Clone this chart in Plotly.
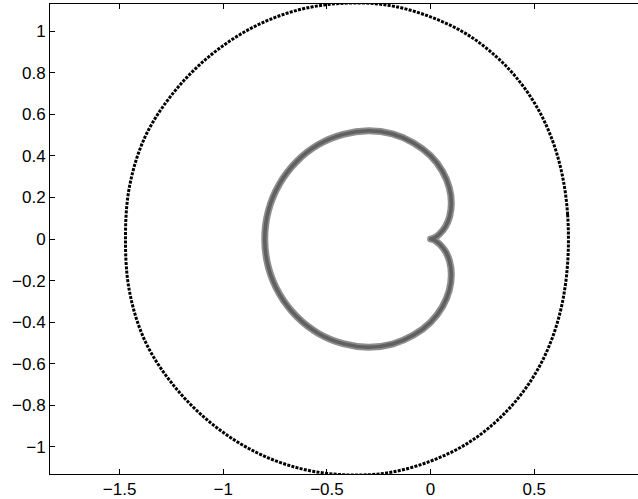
import plotly.graph_objects as go

# Outer closed curve (black dots), counter-clockwise from the right
outer_x = [0.665, 0.661, 0.648, 0.623, 0.582, 0.521, 0.434, 0.319, 0.174, 0.000,
           -0.198, -0.413, -0.636, -0.855, -1.057, -1.235, -1.375, -1.452, -1.472,
           -1.452, -1.375, -1.235, -1.057, -0.855, -0.636, -0.413, -0.198, 0.000,
           0.174, 0.319, 0.434, 0.521, 0.582, 0.623, 0.648, 0.661, 0.665]
outer_y = [0.000, 0.117, 0.236, 0.360, 0.489, 0.620, 0.751, 0.875, 0.985, 1.068,
           1.123, 1.134, 1.102, 1.019, 0.887, 0.710, 0.496, 0.255, 0.000,
           -0.255, -0.496, -0.710, -0.887, -1.019, -1.102, -1.134, -1.123, -1.068,
           -0.985, -0.875, -0.751, -0.620, -0.489, -0.360, -0.236, -0.117, 0.000]

# Inner cardioid (grey x markers), cusp at the origin
inner_x = [0.000, 0.006, 0.023, 0.046, 0.072, 0.092, 0.100, 0.090, 0.057, 0.000,
           -0.082, -0.184, -0.300, -0.422, -0.541, -0.646, -0.729, -0.782, -0.800,
           -0.782, -0.729, -0.646, -0.541, -0.422, -0.300, -0.184, -0.082, 0.000,
           0.057, 0.090, 0.100, 0.092, 0.072, 0.046, 0.023, 0.006, 0.000]
inner_y = [0.000, 0.001, 0.008, 0.027, 0.060, 0.109, 0.173, 0.247, 0.326, 0.400,
           0.462, 0.505, 0.520, 0.503, 0.454, 0.373, 0.265, 0.138, 0.000,
           -0.138, -0.265, -0.373, -0.454, -0.503, -0.520, -0.505, -0.462, -0.400,
           -0.326, -0.247, -0.173, -0.109, -0.060, -0.027, -0.008, -0.001, 0.000]

x_ticks = [-1.5, -1, -0.5, 0, 0.5, 1]
x_labels = ['\u22121.5', '\u22121', '\u22120.5', '0', '0.5', '1']
y_ticks = [-1, -0.8, -0.6, -0.4, -0.2, 0, 0.2, 0.4, 0.6, 0.8, 1]
y_labels = ['\u22121', '\u22120.8', '\u22120.6', '\u22120.4', '\u22120.2', '0',
            '0.2', '0.4', '0.6', '0.8', '1']

fig = go.Figure()
# Inner cardioid: wide light band plus darker core to mimic the overlapping x markers
fig.add_scatter(x=inner_x, y=inner_y, mode='lines', line=dict(color='#8e8e8e', width=7, shape='spline'), hoverinfo='skip')
fig.add_scatter(x=inner_x, y=inner_y, mode='lines', line=dict(color='#606060', width=3.5, shape='spline'), hoverinfo='skip')
# Outer curve: dense black dots
fig.add_scatter(x=outer_x, y=outer_y, mode='lines',
                line=dict(color='black', width=3, shape='spline', dash='3px,1.3px'), hoverinfo='skip')

axis_common = dict(
    showgrid=False, zeroline=False, showline=True, linecolor='black', linewidth=1,
    ticks='inside', ticklen=5, tickwidth=1, tickcolor='black',
)
fig.update_xaxes(range=[-1.836, 1.0005], tickvals=x_ticks, ticktext=x_labels, mirror='ticks', **axis_common)
fig.update_yaxes(range=[-1.13, 1.13], tickvals=y_ticks, ticktext=y_labels, mirror=False, **axis_common)

fig.update_layout(
    width=638, height=499,
    margin=dict(l=50, r=0, t=4, b=25),
    plot_bgcolor='white', paper_bgcolor='white',
    showlegend=False,
    font=dict(family='Liberation Sans, Arial, sans-serif', size=17, color='black'),
)
# drop the default page margin so the figure sits at the window's top-left corner
fig.write_html("out.html", config={'displayModeBar': False},
               post_script="document.body.style.margin='0';document.body.style.overflow='hidden';")
